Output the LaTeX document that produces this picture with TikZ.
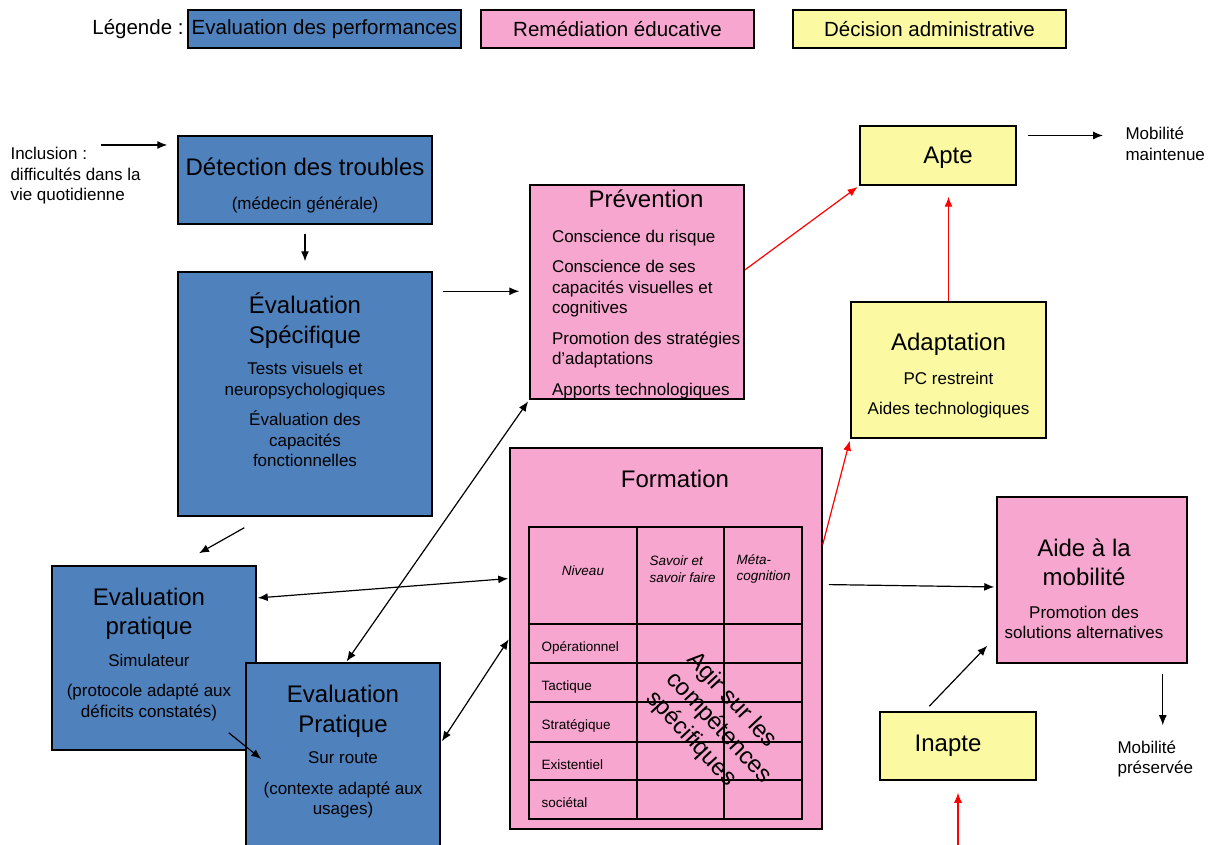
\documentclass[tikz,border=0pt]{standalone}
\usepackage{fontspec}
\setmainfont{Liberation Sans}
\usetikzlibrary{arrows.meta,positioning}
\definecolor{evalblue}{RGB}{79,129,189}
\definecolor{remedpink}{RGB}{247,166,207}
\definecolor{decyellow}{RGB}{251,250,162}
\newcommand{\ttl}{\fontsize{24}{29.5}\selectfont}
\newcommand{\bdy}{\fontsize{17}{20.5}\selectfont}
\newcommand{\tbl}{\fontsize{13.5}{16.5}\selectfont}
\newcommand{\lgd}{\fontsize{20.5}{24}\selectfont}

\begin{document}
\begin{tikzpicture}[x=1pt, y=-1pt,
    box/.style={draw=black, line width=1.5pt, rectangle, inner sep=0pt, align=flush center},
    perf/.style={box, fill=evalblue},
    remed/.style={box, fill=remedpink},
    decis/.style={box, fill=decyellow},
    arr/.style={-{Latex[length=10pt,width=8pt]}, line width=1.2pt},
    darr/.style={{Latex[length=10pt,width=8pt]}-{Latex[length=10pt,width=8pt]}, line width=1.2pt},
    redarr/.style={arr, red}]
  \useasboundingbox (0,0) rectangle (1212,845);

  % Legend
  \node (leg) at (138,29) {\lgd Légende :};
  \node[perf, minimum width=273pt, minimum height=38pt] (leg-perf) at (324.5,29)
    {\lgd Evaluation des performances};
  \node[remed, minimum width=273pt, minimum height=38pt] (leg-remed) at (617.5,29)
    {\lgd Remédiation éducative};
  \node[decis, minimum width=273pt, minimum height=38pt] (leg-decis) at (929.5,29)
    {\lgd Décision administrative};

  % Evaluation boxes
  \node[anchor=west, align=left, font=\bdy] (incl) at (7,176)
    {Inclusion :\\difficultés dans la\\vie quotidienne};
  \node[perf, minimum width=254pt, minimum height=88pt, text width=250pt] (det) at (305,180)
    {\raisebox{-11pt}[\height][\depth]{\ttl Détection des troubles}\par\vspace{25pt}\bdy (médecin générale)\par};
  \node[perf, minimum width=254pt, minimum height=244pt, text width=250pt] (evs) at (305,394)
    {\ttl Évaluation\\Spécifique\par\vspace{11pt}\bdy Tests visuels et\\neuropsychologiques\par
     \vspace{10pt}Évaluation des\\capacités\\fonctionnelles\par\vspace{8pt}\null};
  \node[perf, minimum width=204pt, minimum height=184pt, text width=200pt] (evp) at (154,658)
    {\rightskip=10pt plus 1fil\ttl Evaluation\\pratique\par\vspace{11pt}\bdy Simulateur\par
     \vspace{10pt}(protocole adapté aux\\déficits constatés)\par\vspace{-10pt}\null};
  \node[perf, minimum width=194pt, minimum height=184pt, text width=190pt] (evr) at (343,755)
    {\ttl Evaluation\\Pratique\par\vspace{11pt}\bdy Sur route\par
     \vspace{10pt}(contexte adapté aux\\usages)\par\vspace{-11pt}\null};

  % Remediation boxes
  \node[remed, minimum width=214pt, minimum height=214pt, text width=210pt, align=flush left] (prev) at (637,292)
    {\raisebox{-5pt}[\height][\depth]{\makebox[210pt]{\hspace{18pt}\hfil\ttl Prévention\hfil}}\par\vspace{19pt}\bdy\leftskip=20pt
     Conscience du risque\par\vspace{10pt}Conscience de ses\\capacités visuelles et\\cognitives\par
     \vspace{10pt}Promotion des stratégies\\d’adaptations\par\vspace{10pt}Apports technologiques\par};
  \node[remed, minimum width=312pt, minimum height=381pt] (form) at (666,638.5) {};
  \node[below=19pt of form.north, xshift=9pt, font=\ttl] (form-t) {Formation};
  \node[remed, minimum width=190pt, minimum height=166pt, text width=186pt] (aide) at (1092,580)
    {\rightskip=16pt plus 1fil\ttl\raisebox{-17pt}[\height][\depth]{Aide à la}\\[17pt]mobilité\par
     \vspace{12pt}\bdy Promotion des\\solutions alternatives\par};

  % Table inside Formation
  \draw[line width=1.5pt] (529,527) rectangle (802,819);
  \foreach \cx in {637,724}
    \draw[line width=1.5pt] (\cx,527) -- (\cx,819);
  \foreach \ry in {624,663,702,742,780}
    \draw[line width=1.5pt] (529,\ry) -- (802,\ry);
  \node[font=\tbl\itshape] (t-niv) at (583,571) {Niveau};
  \node[anchor=west, align=left, font=\tbl\itshape] (t-sav) at (646,569) {Savoir et\\savoir faire};
  \node[anchor=west, align=left, font=\tbl\itshape] (t-meta) at (733,569) {Méta-\\cognition};
  \foreach \lbl/\ry [count=\i] in {Opérationnel/648, Tactique/687, Stratégique/726, Existentiel/765, sociétal/803}
    \node[anchor=west, font=\tbl] (row\i) at (538,\ry) {\lbl};
  \node[rotate=-47, align=left, font=\fontsize{24}{28}\selectfont] (agir) at (719,728)
    {Agir sur les\\compétences\\spécifiques};

  % Decision boxes
  \node[decis, minimum width=156pt, minimum height=59pt, text depth=0pt] (apte) at (938,155.5) {\ttl\hspace*{20pt}Apte};
  \node[decis, minimum width=195pt, minimum height=136pt, text width=190pt] (ada) at (948.5,370)
    {\raisebox{-12pt}[\height][\depth]{\ttl Adaptation}\par\vspace{25pt}\bdy PC restreint\par\vspace{10pt}Aides technologiques\par};
  \node[decis, minimum width=156pt, minimum height=68pt] (inapte) at (958,746) {\ttl Inapte\hspace*{20pt}};
  \node[anchor=west, align=left, font=\bdy] (mobm) at (1122,144) {Mobilité\\maintenue};
  \node[anchor=west, align=left, font=\bdy] (mobp) at (1114,759) {Mobilité\\préservée};

  % Arrows
  \coordinate (incl-a) at (101,145);
  \draw[arr, shorten >=10pt] (incl-a) -- (incl-a -| det.west);
  \draw[arr, shorten <=9pt, shorten >=10pt] (det) -- (evs);
  \draw[arr, shorten <=10pt, shorten >=10pt] ([yshift=-20pt]evs.north east) -- ([yshift=-20pt]evs.north east -| prev.west);
  \draw[arr] ([xshift=67pt,yshift=-11pt]evs.south west) -- ([xshift=45pt,yshift=12pt]evp.north);
  \draw[darr, shorten <=1pt, shorten >=1pt] ([yshift=60pt]evp.east) -- ([yshift=60pt]form.west);
  \draw[darr, shorten <=1pt, shorten >=2pt] ([xshift=3pt]evr.north) -- (prev.south west);
  \draw[darr, shorten <=2pt, shorten >=1pt] ([yshift=12pt]evr.east) -- (form.west);
  \draw[arr] ([xshift=-28pt,yshift=18pt]evp.south east) -- ([xshift=16pt,yshift=-4pt]evr.west);
  \draw[redarr, shorten >=2pt] ([yshift=22pt]prev.east) -- (apte.south west);
  \draw[arr, shorten <=11pt, shorten >=19pt] ([yshift=20pt]apte.east) -- ([yshift=20pt]apte.east -| mobm.west);
  \draw[redarr, shorten >=11pt] (ada.north) -- (ada.north |- apte.south);
  \draw[redarr, shorten >=2pt] ([yshift=94pt]form.east) -- (ada.south west);
  \draw[arr, shorten <=6pt, shorten >=2pt] ([yshift=54pt]form.east) -- ([yshift=-7pt]aide.west);
  \draw[arr, shorten <=10pt, shorten >=12pt] ([xshift=-25pt]aide.south east) -- ([xshift=-25pt]aide.south east |- mobp.north);
  \draw[arr] ([xshift=50pt,yshift=5pt]inapte.north west) -- ([xshift=-9pt,yshift=18pt]aide.south west);
  \draw[redarr, shorten >=12pt] ([yshift=-70pt]inapte.south) -- (inapte.south);
\end{tikzpicture}
\end{document}
